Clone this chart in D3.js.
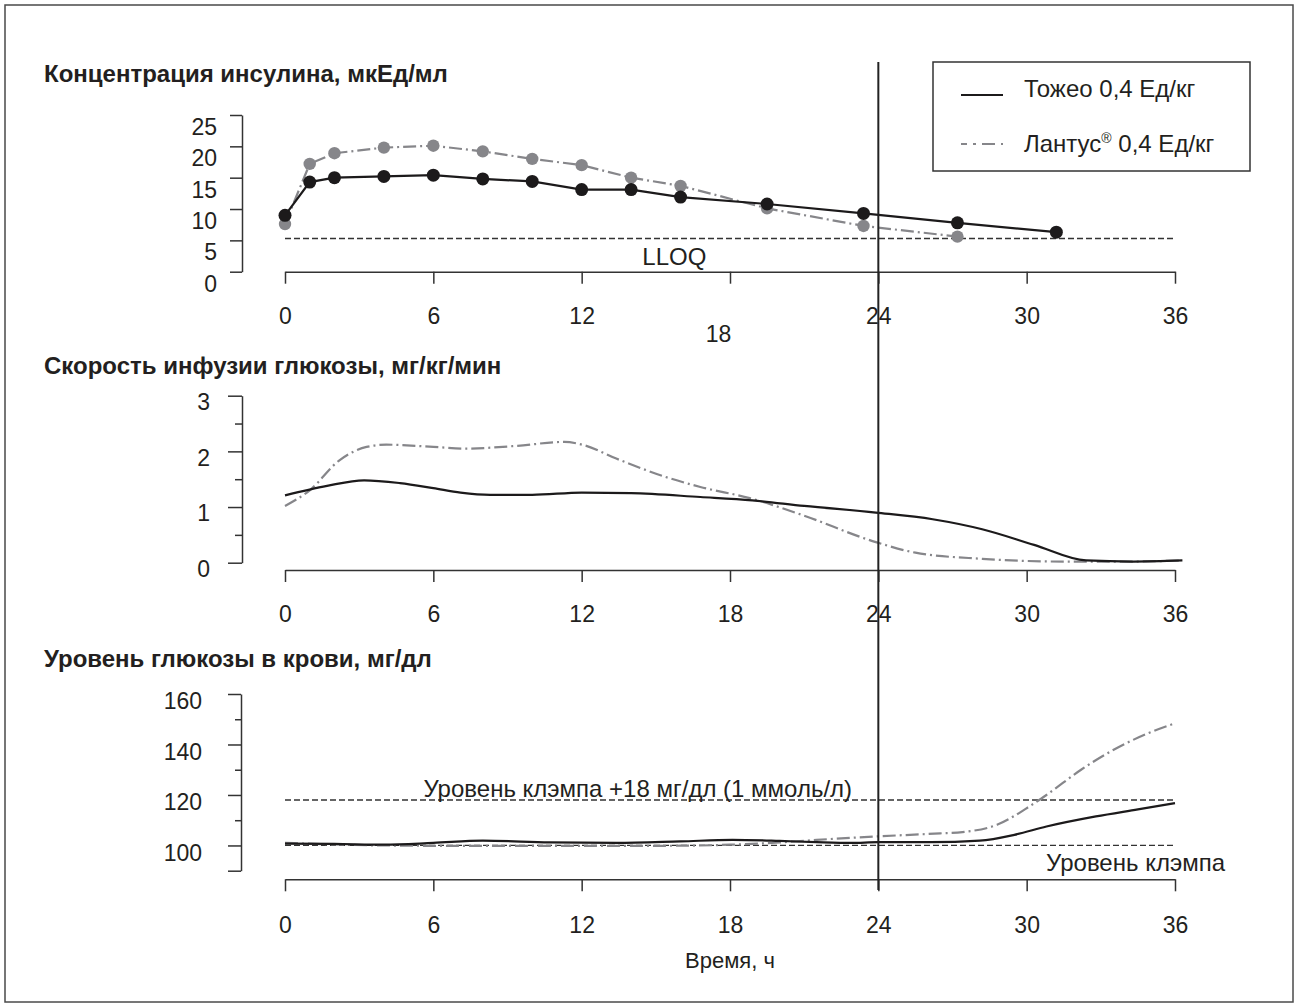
<!DOCTYPE html>
<html>
<head>
<meta charset="utf-8">
<script src="https://cdn.jsdelivr.net/npm/d3@7"></script>
<style>
  body { margin: 0; background: #fff; }
  svg text { font-family: "Liberation Sans", Arial, sans-serif; fill: #231f20; }
</style>
</head>
<body>
<div id="chart"></div>
<script>
const width = 1300;
const height = 1008;

// --- insulin concentration (top panel)
const pkTimeToujeo = [0, 1, 2, 4, 6, 8, 10, 12, 14, 16, 19.5, 23.4, 27.2, 31.2];
const pkToujeo = [9.0, 14.3, 15.0, 15.2, 15.4, 14.8, 14.4, 13.1, 13.1, 11.9, 10.8, 9.3, 7.8, 6.3];
const pkTimeLantus = [0, 1, 2, 4, 6, 8, 10, 12, 14, 16, 19.5, 23.4, 27.2];
const pkLantus = [7.6, 17.2, 18.9, 19.8, 20.1, 19.2, 18.0, 17.0, 15.0, 13.7, 10.1, 7.3, 5.6];
const lloq = 5.3;

// --- glucose infusion rate (middle panel)
const girTimeToujeo = [0, 1.7, 3.2, 4.65, 6, 7.1, 8.3, 10, 12, 14, 16.8, 18.9, 21, 23.9, 26.2, 28.2, 30.3, 32.4, 34.3, 36.3];
const girToujeo = [1.21, 1.38, 1.48, 1.43, 1.34, 1.26, 1.22, 1.22, 1.26, 1.25, 1.18, 1.12, 1.02, 0.90, 0.78, 0.60, 0.32, 0.04, 0.02, 0.04];
const girTimeLantus = [0, 1, 2.2, 3.3, 4.1, 6, 7.3, 9.4, 11.3, 12.1, 13.4, 15.4, 16.8, 18.8, 20.9, 23.9, 25.5, 28.2, 31.6, 34, 36.3];
const girLantus = [1.02, 1.30, 1.84, 2.08, 2.12, 2.08, 2.05, 2.10, 2.17, 2.11, 1.87, 1.54, 1.36, 1.16, 0.86, 0.37, 0.18, 0.07, 0.02, 0.02, 0.04];

// --- blood glucose (bottom panel)
const bgTimeToujeo = [0, 2, 4, 6, 8, 10.7, 13.4, 16, 18.1, 20, 21.5, 22.9, 24, 26.1, 28.1, 29.5, 30.8, 32.8, 34.5, 36];
const bgToujeo = [100.7, 100.6, 100.3, 101.0, 101.9, 101.2, 101.0, 101.6, 102.2, 101.8, 101.3, 101.0, 101.3, 101.3, 101.9, 104.2, 107.5, 111.5, 114.3, 116.8];
const bgTimeLantus = [0, 2, 4, 8, 12, 16, 18, 20, 21.5, 24, 26.5, 27.4, 28.8, 30.1, 30.8, 32.2, 33.5, 34.9, 36];
const bgLantus = [101.0, 100.4, 100.0, 99.8, 99.8, 99.9, 100.3, 101.2, 102.2, 103.6, 104.8, 105.3, 108.2, 115.4, 120, 130, 137.8, 144.4, 148.4];
const clampLevel = 100;
const clampPlus = 118;

const timeTicks = [0, 6, 12, 18, 24, 30, 36];
const markerTime = 24;

const titles = [
    "Концентрация инсулина, мкЕд/мл",
    "Скорость инфузии глюкозы, мг/кг/мин",
    "Уровень глюкозы в крови, мг/дл"
];
const legendLabels = ["Тожео 0,4 Ед/кг", "Лантус"];

const black = '#1c1a1b';
const grey = '#86868a';
const lantusDash = '13,4,2,4';
const fontSize = '24px';
const tickFont = '23px';

const svg = d3.select('#chart').append('svg')
    .attr('width', width)
    .attr('height', height);

// рамка
svg.append('rect')
    .attr('x', 5).attr('y', 5)
    .attr('width', 1288).attr('height', 997)
    .attr('fill', 'none')
    .attr('stroke', '#4a4a4a')
    .attr('stroke-width', 1.5);

const x = d3.scaleLinear().domain([0, 36]).range([285, 1175]);

const yTop = d3.scaleLinear().domain([0, 25]).range([271.7, 115]);
const yMid = d3.scaleLinear().domain([0, 3]).range([562.7, 395.7]);
const yBot = d3.scaleLinear().domain([90, 160]).range([870.7, 694]);

function styleAxis(g) {
    g.select('.domain').attr('stroke', '#333').attr('stroke-width', 1.5);
    g.selectAll('.tick line').attr('stroke', '#333').attr('stroke-width', 1.5);
    g.selectAll('.tick text').style('font-size', tickFont).attr('fill', '#231f20');
}

function drawXAxis(yPos, labelY) {
    const g = svg.append('g')
        .attr('transform', `translate(0,${yPos})`)
        .call(d3.axisBottom(x).tickValues(timeTicks).tickSize(12).tickSizeOuter(0).tickFormat(d3.format('d')));
    styleAxis(g);
    g.selectAll('.tick text').attr('y', labelY).attr('dy', '0.36em');
    return g;
}

function drawYAxis(scale, xPos, values, isMajor, hasLabel, major, minor, labelX, labelDy) {
    const g = svg.append('g')
        .attr('transform', `translate(${xPos},0)`)
        .call(d3.axisLeft(scale).tickValues(values).tickSize(major).tickSizeOuter(0)
            .tickFormat(d => hasLabel(d) ? d3.format('d')(d) : ''));
    styleAxis(g);
    g.selectAll('.tick line').attr('x2', d => isMajor(d) ? -major : -minor);
    g.selectAll('.tick text').attr('x', labelX).attr('dy', labelDy);
    return g;
}

function title(text, y) {
    svg.append('text')
        .attr('x', 44).attr('y', y)
        .style('font-size', fontSize)
        .style('font-weight', 'bold')
        .text(text);
}

function refLine(scale, value) {
    svg.append('line')
        .attr('x1', x(0)).attr('x2', x(36))
        .attr('y1', scale(value)).attr('y2', scale(value))
        .attr('stroke', '#333')
        .attr('stroke-width', 1.3)
        .attr('stroke-dasharray', '6,3');
}

function curve(times, values, scale, color, dash, curveType) {
    const line = d3.line()
        .x((d, i) => x(times[i]))
        .y(d => scale(d))
        .curve(curveType);
    svg.append('path')
        .datum(values)
        .attr('d', line)
        .attr('fill', 'none')
        .attr('stroke', color)
        .attr('stroke-width', 2.2)
        .attr('stroke-dasharray', dash);
}

function dots(times, values, scale, color, r) {
    svg.append('g').selectAll('circle')
        .data(values)
        .enter().append('circle')
        .attr('cx', (d, i) => x(times[i]))
        .attr('cy', d => scale(d))
        .attr('r', r)
        .attr('fill', color);
}

// ===== верхняя панель
title(titles[0], 82);
drawYAxis(yTop, 242, [0, 5, 10, 15, 20, 25], () => true, () => true, 12, 12, -25, '0.85em');
const topX = drawXAxis(271.7, 44);
// метка 18 в оригинале смещена
topX.selectAll('.tick text').filter(d => d === 18).attr('dx', -12).attr('y', 62);

refLine(yTop, lloq);
svg.append('text')
    .attr('x', x(15.75)).attr('y', yTop(lloq) + 18)
    .attr('text-anchor', 'middle').attr('dy', '0.36em')
    .style('font-size', fontSize)
    .text('LLOQ');

curve(pkTimeLantus, pkLantus, yTop, grey, lantusDash, d3.curveLinear);
dots(pkTimeLantus, pkLantus, yTop, grey, 6.2);
curve(pkTimeToujeo, pkToujeo, yTop, black, null, d3.curveLinear);
dots(pkTimeToujeo, pkToujeo, yTop, black, 6.5);

// ===== средняя панель
title(titles[1], 374);
drawYAxis(yMid, 242, d3.range(0, 3.01, 0.5), d => d % 1 === 0, d => d % 1 === 0, 14, 7, -32, '0.6em');
drawXAxis(570, 44);
curve(girTimeLantus, girLantus, yMid, grey, lantusDash, d3.curveMonotoneX);
curve(girTimeToujeo, girToujeo, yMid, black, null, d3.curveMonotoneX);

// ===== нижняя панель
title(titles[2], 667);
drawYAxis(yBot, 241, d3.range(90, 161, 10), d => d === 90 || d % 20 === 0, d => d % 20 === 0, 13, 6, -39, '0.65em');
drawXAxis(879.3, 45);

refLine(yBot, clampPlus);
refLine(yBot, clampLevel);
svg.append('text')
    .attr('x', x(5.6)).attr('y', yBot(clampPlus) - 3)
    .style('font-size', fontSize)
    .text('Уровень клэмпа +18 мг/дл (1 ммоль/л)');
svg.append('text')
    .attr('x', 1225).attr('y', yBot(clampLevel) + 26)
    .attr('text-anchor', 'end')
    .style('font-size', fontSize)
    .text('Уровень клэмпа');

curve(bgTimeLantus, bgLantus, yBot, grey, lantusDash, d3.curveMonotoneX);
curve(bgTimeToujeo, bgToujeo, yBot, black, null, d3.curveMonotoneX);

svg.append('text')
    .attr('x', x(18)).attr('y', 960)
    .attr('text-anchor', 'middle').attr('dy', '0.36em')
    .style('font-size', '22px')
    .text('Время, ч');

// вертикальная линия на 24 ч
svg.append('line')
    .attr('x1', x(markerTime)).attr('x2', x(markerTime))
    .attr('y1', 62).attr('y2', 890)
    .attr('stroke', '#222')
    .attr('stroke-width', 2);

// легенда
const legend = svg.append('g');
legend.append('rect')
    .attr('x', 933).attr('y', 62)
    .attr('width', 317).attr('height', 109)
    .attr('fill', '#fff')
    .attr('stroke', '#333')
    .attr('stroke-width', 1.5);
legend.append('line')
    .attr('x1', 961).attr('x2', 1003).attr('y1', 95).attr('y2', 95)
    .attr('stroke', black).attr('stroke-width', 2.2);
legend.append('line')
    .attr('x1', 961).attr('x2', 1003).attr('y1', 144).attr('y2', 144)
    .attr('stroke', grey).attr('stroke-width', 2.2)
    .attr('stroke-dasharray', '6,6,3,6,13');
legend.append('text')
    .attr('x', 1024).attr('y', 97)
    .style('font-size', fontSize)
    .text(legendLabels[0]);
const lt = legend.append('text')
    .attr('x', 1024).attr('y', 152)
    .style('font-size', fontSize);
lt.append('tspan').text(legendLabels[1]);
lt.append('tspan').text('®').style('font-size', '14px').attr('dy', -9);
lt.append('tspan').text(' 0,4 Ед/кг').attr('dy', 9);
</script>
</body>
</html>
